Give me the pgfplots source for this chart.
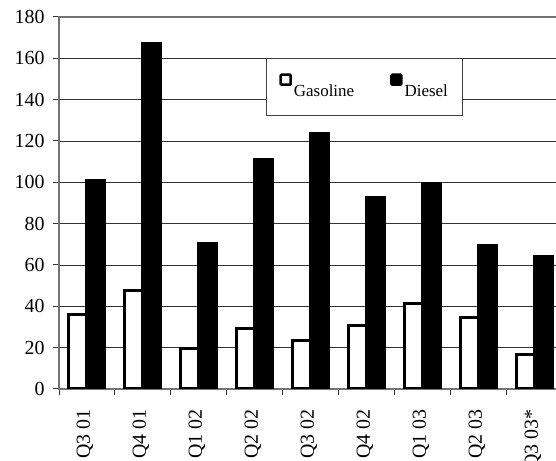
\documentclass[border=0pt]{standalone}
\usepackage{fontspec}
\setmainfont{Liberation Serif}
\usepackage{pgfplots}
\pgfplotsset{compat=1.18}
\begin{document}
\begin{tikzpicture}
\useasboundingbox (0bp,0bp) rectangle (556bp,461bp);
\begin{axis}[
  at={(59bp,72bp)}, anchor=south west,
  width=504bp, height=372bp, scale only axis,
  ybar=0pt, bar width=18bp,
  xmin=-0.5, xmax=8.5, ymin=0, ymax=180,
  ytick={0,20,...,180},
  xtick={-0.5,0.5,...,8.5}, xticklabels={},
  extra x ticks={0,1,2,3,4,5,6,7,8},
  extra x tick labels={Q3 01,Q4 01,Q1 02,Q2 02,Q3 02,Q4 02,Q1 03,Q2 03,Q3 03*},
  extra x tick style={major tick length=0pt, grid=none,
    tick label style={rotate=90, anchor=base east, xshift=-17bp, yshift=-3bp}},
  yticklabel style={xshift=-5bp},
  tick pos=left, tick align=outside, major tick length=6bp,
  every tick/.style={black!80, line width=1bp},
  ymajorgrids, grid style={black!80, line width=0.9bp},
  axis line style={black!55, line width=2bp},
  tick label style={font=\fontsize{20}{24}\selectfont},
  /pgf/number format/assume math mode=true,
  legend columns=2,
  legend style={at={(rel axis cs:0.4107,0.8898)}, anchor=north west,
    draw=black!75, fill=white, line width=1bp,
    font=\fontsize{17}{20}\selectfont,
    inner xsep=13bp, inner ysep=15bp,
    /tikz/every even column/.append style={column sep=34bp}},
  legend image code/.code={\draw[#1, line width=2.5bp, rounded corners=1bp] (0bp,7bp) rectangle (10bp,17bp);},
]
\addplot[draw=black, fill=white, line width=3bp] coordinates {
(0,36) (1,47.5) (2,19.5) (3,29.5) (4,23.5) (5,30.5) (6,41.5) (7,34.5) (8,16.5)};
\addplot[draw=black, fill=black, line width=3bp] coordinates {
(0,101) (1,167) (2,70.5) (3,111) (4,123.5) (5,92.5) (6,99.5) (7,69.5) (8,64)};
\legend{Gasoline,Diesel}
\end{axis}
\end{tikzpicture}
\end{document}
